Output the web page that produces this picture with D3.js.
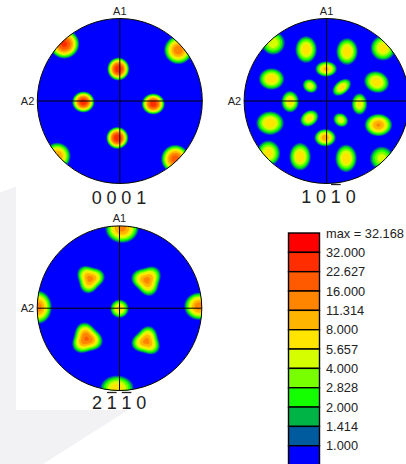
<!DOCTYPE html>
<html>
<head>
<meta charset="utf-8">
<script src="https://cdn.jsdelivr.net/npm/d3@7/dist/d3.min.js"></script>
<style>
  body { margin: 0; background: #fff; }
  svg { display: block; }
  text { font-family: "Liberation Sans", Arial, sans-serif; fill: #222; }
</style>
</head>
<body>
<svg id="chart" width="406" height="464"></svg>
<script>
// Contour levels (multiples of random distribution) and their fills
const levels = [1.000, 1.414, 2.000, 2.828, 4.000, 5.657, 8.000, 11.314, 16.000, 22.627, 32.000];
const maxDensity = 32.168;
const levelColors = ["#0000ff", "#005a9e", "#00b446", "#14ff00", "#78ff00", "#d5ff00",
                     "#ffe500", "#ffb400", "#ff8400", "#ff5a00", "#ff2d00", "#ff0000"];
const legendLabels = ["max = 32.168", "32.000", "22.627", "16.000", "11.314", "8.000",
                      "5.657", "4.000", "2.828", "2.000", "1.414", "1.000"];

// Pole maxima in projection coordinates (x right, y up = A1):
// [x, y, peak, spreadX, spreadY, tiltDeg, triangularity, triAngleDeg]
// spread = distance at which the intensity falls to 1.000
const poles0001 = [
  [-0.018,  0.388, 31.0,   0.132, 0.138, 0, 0, 0],
  [-0.030, -0.448, 32.168, 0.132, 0.132, 0, 0, 0],
  [-0.442, -0.012, 30.0,   0.134, 0.126, 0, 0, 0],
  [ 0.406, -0.036, 29.0,   0.138, 0.126, 0, 0, 0],
  [-0.673,  0.691, 26.0,   0.180, 0.175, 0, 0, 0],
  [ 0.709,  0.618, 15.0,   0.170, 0.170, 0, 0, 0],
  [-0.758, -0.667, 12.0,   0.160, 0.160, 0, 0, 0],
  [ 0.673, -0.703, 20.0,   0.170, 0.170, 0, 0, 0]
];
const poles1010 = [
  [-0.248,  0.624,  7.8, 0.128, 0.160,   0, 0, 0],
  [ 0.248,  0.600,  7.8, 0.128, 0.160,   0, 0, 0],
  [-0.648,  0.703,  5.5, 0.140, 0.140,   0, 0, 0],
  [ 0.685,  0.642,  7.0, 0.150, 0.150,   0, 0, 0],
  [-0.006,  0.388,  9.0, 0.128, 0.092,   0, 0, 0],
  [-0.667,  0.267,  7.8, 0.152, 0.128,   0, 0, 0],
  [-0.200,  0.182,  5.5, 0.092, 0.078, -35, 0, 0],
  [ 0.184,  0.166,  7.0, 0.128, 0.080,  40, 0, 0],
  [ 0.606,  0.230,  7.8, 0.152, 0.128, -20, 0, 0],
  [-0.442, -0.008,  7.2, 0.104, 0.128,   0, 0, 0],
  [ 0.398, -0.036,  6.5, 0.092, 0.128,   0, 0, 0],
  [-0.685, -0.267,  8.0, 0.165, 0.140,   0, 0, 0],
  [-0.209, -0.210,  7.0, 0.116, 0.090,  35, 0, 0],
  [ 0.172, -0.230,  5.5, 0.092, 0.078, -35, 0, 0],
  [ 0.628, -0.291, 12.0, 0.165, 0.134,   0, 0, 0],
  [-0.018, -0.445, 10.5, 0.128, 0.104,   0, 0, 0],
  [-0.705, -0.634,  7.0, 0.140, 0.152,   0, 0, 0],
  [-0.321, -0.675,  7.8, 0.128, 0.165,   0, 0, 0],
  [ 0.236, -0.695,  7.8, 0.128, 0.165,   0, 0, 0],
  [ 0.669, -0.695,  5.0, 0.140, 0.140,   0, 0, 0]
];
const poles2110 = [
  [ 0.030,  0.972, 13.0, 0.200, 0.178, 0, 0,    0],
  [-0.030, -0.972,  7.5, 0.200, 0.152, 0, 0,    0],
  [-0.990,  0.012, 14.0, 0.165, 0.200, 0, 0,    0],
  [ 0.966,  0.024, 14.0, 0.178, 0.165, 0, 0,    0],
  [ 0.000, -0.006,  7.5, 0.110, 0.110, 0, 0,    0],
  [-0.358,  0.358, 13.0, 0.160, 0.160, 0, 0.12, 15],
  [ 0.334,  0.340, 13.0, 0.172, 0.172, 0, 0.12, 45],
  [-0.401, -0.371, 17.0, 0.178, 0.178, 0, 0.12, -15],
  [ 0.328, -0.401, 13.0, 0.165, 0.165, 0, 0.12, 75]
];

// Miller-Bravais indices of each figure ("-" marks a bar)
const indices0001 = ["0", "0", "0", "1"];
const indices1010 = ["1", "0", "-1", "0"];
const indices2110 = ["2", "-1", "-1", "0"];

// Placement of the three pole figures
const figures = [
  { poles: poles0001, indices: indices0001, cx: 119.8, cy: 101,   R: 82.5, labelX: 119,   labelY: 203.5, barY: null },
  { poles: poles1010, indices: indices1010, cx: 326.6, cy: 101,   R: 82.5, labelX: 328.5, labelY: 203.0, barY: 184.5 },
  { poles: poles2110, indices: indices2110, cx: 119.5, cy: 308.2, R: 82.3, labelX: 119.2, labelY: 408.5, barY: 392.5 }
];

const svg = d3.select("#chart");

// pale backdrop shape on the left
svg.append("polygon")
  .attr("points", "0,192.5 16,186.5 16,410 128,410 43,464 0,464")
  .attr("fill", "#f2f1f4");

const color = d3.scaleThreshold().domain(levels).range(levelColors);
const rad = Math.PI / 180;

// Intensity at (u, v): sum of the pole maxima, each falling to 1 at its spread
function intensity(poles, u, v) {
  let s = 0;
  for (const [x, y, peak, sx, sy, tilt, tri, triAng] of poles) {
    const dx = u - x, dy = v - y;
    const ca = Math.cos(tilt * rad), sa = Math.sin(tilt * rad);
    const px = dx * ca + dy * sa, py = -dx * sa + dy * ca;
    let d = Math.hypot(px / sx, py / sy);
    if (tri) d /= 1 + tri * Math.cos(3 * (Math.atan2(dy, dx) - triAng * rad));
    if (d < 2.5) s += Math.pow(peak, 1 - d * d);
  }
  return s;
}

const defs = svg.append("defs");

figures.forEach((f, k) => {
  const { cx, cy, R } = f;
  const xs = d3.scaleLinear().domain([-1, 1]).range([cx - R, cx + R]);
  const ys = d3.scaleLinear().domain([-1, 1]).range([cy + R, cy - R]);

  const step = 0.5;
  const x0 = cx - R - 1, y0 = cy - R - 1;
  const n = Math.ceil((2 * R + 2) / step);
  const values = new Float64Array(n * n);
  for (let j = 0; j < n; j++) {
    const v = ys.invert(y0 + (j + 0.5) * step);
    for (let i = 0; i < n; i++) {
      const u = xs.invert(x0 + (i + 0.5) * step);
      values[j * n + i] = intensity(f.poles, u, v);
    }
  }
  const bands = d3.contours().size([n, n]).thresholds(levels)(values);
  const path = d3.geoPath(d3.geoIdentity().scale(step).translate([x0, y0]));

  defs.append("clipPath").attr("id", "pf" + k)
    .append("circle").attr("cx", cx).attr("cy", cy).attr("r", R);

  const g = svg.append("g").attr("clip-path", `url(#pf${k})`);
  g.append("circle").attr("cx", cx).attr("cy", cy).attr("r", R).attr("fill", levelColors[0]);
  g.selectAll("path").data(bands).join("path")
    .attr("d", path)
    .attr("fill", d => color(d.value));

  // rim and reference axes
  svg.append("circle").attr("cx", cx).attr("cy", cy).attr("r", R)
    .attr("fill", "none").attr("stroke", "#000").attr("stroke-width", 1);
  svg.append("line").attr("x1", xs(0)).attr("x2", xs(0)).attr("y1", ys(1)).attr("y2", ys(-1))
    .attr("stroke", "#000").attr("stroke-width", 1);
  svg.append("line").attr("x1", xs(-1)).attr("x2", xs(1)).attr("y1", ys(0)).attr("y2", ys(0))
    .attr("stroke", "#000").attr("stroke-width", 1);

  svg.append("text").attr("x", xs(0)).attr("y", ys(1) - 3.5)
    .attr("text-anchor", "middle").attr("font-size", 11).text("A1");
  svg.append("text").attr("x", xs(-1) - 3).attr("y", ys(0) + 4.2)
    .attr("text-anchor", "end").attr("font-size", 11).text("A2");

  // Miller-Bravais index label with bars over negative components
  const fs = 18, adv = fs * 0.82;
  f.indices.forEach((c, m) => {
    const x = f.labelX + (m - (f.indices.length - 1) / 2) * adv;
    svg.append("text").attr("x", x).attr("y", f.labelY)
      .attr("text-anchor", "middle").attr("font-size", fs).text(c.replace("-", ""));
    if (c.startsWith("-")) {
      svg.append("line").attr("x1", x - 4.8).attr("x2", x + 4.8)
        .attr("y1", f.barY).attr("y2", f.barY)
        .attr("stroke", "#222").attr("stroke-width", 1.3);
    }
  });
});

// Legend: bands from highest to lowest level
const legTop = 233, legStep = 19.34, legX = 288.5, legW = 31;
const legendColors = levelColors.slice().reverse();
const leg = svg.append("g");
leg.selectAll("rect").data(legendColors).join("rect")
  .attr("x", legX).attr("y", (d, i) => legTop + i * legStep)
  .attr("width", legW).attr("height", legStep)
  .attr("fill", d => d).attr("stroke", "#000").attr("stroke-width", 1.4);
leg.selectAll("text").data(legendLabels).join("text")
  .attr("x", 326).attr("y", (d, i) => legTop + i * legStep + 4.6)
  .attr("font-size", 12.8).text(d => d);
</script>
</body>
</html>
